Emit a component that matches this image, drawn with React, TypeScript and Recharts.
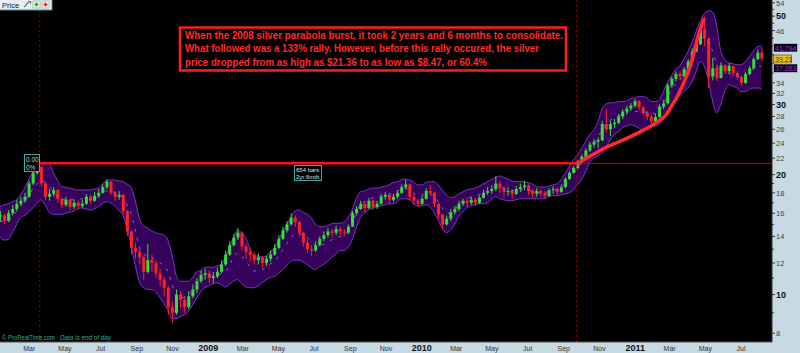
import React from 'react';
import { ComposedChart, Area, Bar, Line, XAxis, YAxis, CartesianGrid, ReferenceLine } from 'recharts';

// weekly bars, first bar is the week ending 2008-01-11 (day 0)
const START = Date.UTC(2008, 0, 11);
const toDay = (iso: string) => (Date.parse(iso) - START) / 86400000;

const closes = [
  15.8, 15.3, 16.0, 16.4, 16.9, 17.2, 17.6, 19.0, 20.2, 20.9,
  19.0, 17.6, 17.9, 18.3, 17.4, 16.8, 17.3, 16.6, 17.0, 16.7,
  16.9, 17.6, 17.2, 17.7, 18.0, 18.6, 19.2, 18.0, 17.6, 17.8,
  16.2, 14.4, 13.1, 12.8, 12.4, 11.4, 12.2, 12.0, 11.3, 10.9,
  10.4, 9.3, 9.0, 10.0, 9.7, 9.3, 9.9, 10.3, 10.8, 11.2,
  11.3, 11.0, 11.1, 11.4, 11.9, 12.6, 13.3, 13.9, 14.3, 13.2,
  12.8, 12.6, 12.2, 12.4, 12.0, 12.3, 12.6, 13.1, 13.8, 14.5,
  15.0, 15.6, 15.2, 14.3, 13.5, 13.0, 12.9, 13.3, 13.8, 14.1,
  14.4, 14.3, 14.6, 14.4, 14.3, 14.8, 16.0, 16.4, 16.9, 16.5,
  17.2, 16.6, 16.9, 17.6, 17.8, 17.3, 17.6, 18.0, 18.6, 18.9,
  17.6, 17.2, 16.9, 17.4, 18.2, 18.0, 16.9, 15.9, 15.0, 15.5,
  16.1, 16.4, 16.9, 17.2, 17.0, 17.3, 17.0, 17.5, 18.0, 18.2,
  18.4, 19.0, 18.5, 18.1, 18.2, 17.9, 18.4, 18.6, 18.8, 18.2,
  17.9, 18.2, 18.0, 17.7, 18.3, 18.4, 18.1, 18.6, 19.5, 20.2,
  20.8, 21.5, 22.2, 23.0, 23.8, 24.2, 24.4, 26.8, 26.0, 26.8,
  27.0, 28.0, 28.8, 29.3, 29.8, 30.6, 29.5, 28.6, 28.0, 27.2,
  27.9, 29.6, 30.2, 33.5, 34.8, 35.8, 35.3, 36.8, 38.5, 40.8,
  42.5, 46.5, 44.0, 35.3, 37.0, 35.0, 37.6, 36.4, 37.5, 36.0,
  35.2, 34.0, 35.8, 37.0, 39.0, 40.5, 39.21,
];

const highs = [
  16.2, 16.0, 16.3, 16.8, 17.3, 17.6, 18.0, 19.3, 20.5, 21.36,
  21.0, 19.1, 18.4, 18.6, 18.4, 17.5, 17.6, 17.4, 17.3, 17.2,
  17.3, 17.9, 17.8, 18.1, 18.4, 18.9, 19.5, 19.3, 18.2, 18.2,
  17.9, 16.3, 14.5, 13.5, 13.0, 12.5, 13.4, 12.6, 12.2, 11.6,
  11.1, 10.5, 9.6, 10.3, 10.2, 9.9, 10.2, 10.6, 11.0, 11.5,
  11.6, 11.5, 11.4, 11.7, 12.2, 12.9, 13.6, 14.2, 14.7, 14.4,
  13.4, 13.1, 12.8, 12.7, 12.5, 12.5, 12.9, 13.4, 14.1, 14.8,
  15.3, 16.0, 15.8, 15.3, 14.4, 13.7, 13.3, 13.6, 14.0, 14.4,
  14.7, 14.6, 14.9, 14.8, 14.6, 15.0, 16.2, 16.7, 17.2, 17.1,
  17.5, 17.3, 17.2, 17.9, 18.1, 17.9, 17.9, 18.3, 18.9, 19.4,
  19.0, 17.9, 17.4, 17.7, 18.5, 18.8, 18.1, 17.0, 15.9, 15.8,
  16.4, 16.7, 17.2, 17.4, 17.5, 17.6, 17.5, 17.7, 18.3, 18.6,
  18.8, 19.8, 19.3, 18.7, 18.6, 18.4, 18.7, 19.0, 19.3, 18.9,
  18.4, 18.5, 18.4, 18.2, 18.5, 18.7, 18.6, 18.9, 19.7, 20.4,
  21.0, 21.8, 22.5, 23.3, 24.2, 24.6, 24.8, 27.3, 29.2, 27.3,
  27.6, 28.4, 29.2, 29.8, 30.3, 31.0, 30.8, 29.8, 28.9, 28.3,
  28.4, 30.0, 30.8, 33.9, 35.2, 36.3, 36.3, 37.3, 39.0, 41.5,
  43.3, 47.2, 49.8, 44.2, 39.3, 37.8, 38.3, 37.9, 38.1, 37.6,
  36.4, 35.5, 36.2, 37.5, 39.4, 41.2, 41.8,
];

const lows = [
  15.2, 15.0, 15.2, 15.8, 16.2, 16.7, 17.0, 17.5, 18.8, 20.0,
  18.7, 17.3, 17.2, 17.6, 17.0, 16.5, 16.6, 16.3, 16.4, 16.4,
  16.5, 16.8, 16.9, 17.1, 17.5, 17.9, 18.4, 17.8, 17.2, 17.3,
  15.9, 14.0, 12.6, 12.3, 11.9, 10.9, 11.3, 11.4, 11.0, 10.5,
  9.9, 8.9, 8.47, 8.9, 9.3, 9.0, 9.2, 9.8, 10.1, 10.7,
  10.9, 10.7, 10.7, 11.0, 11.3, 11.8, 12.5, 13.2, 13.7, 12.9,
  12.3, 12.1, 11.9, 11.9, 11.7, 11.8, 12.1, 12.5, 13.0, 13.7,
  14.3, 14.9, 14.8, 14.0, 13.2, 12.7, 12.5, 12.8, 13.2, 13.6,
  13.9, 13.9, 14.1, 14.1, 14.0, 14.2, 14.8, 15.8, 16.3, 16.1,
  16.4, 16.3, 16.4, 16.8, 17.3, 16.9, 17.1, 17.4, 17.9, 18.4,
  17.3, 16.8, 16.6, 16.8, 17.3, 17.7, 16.6, 15.5, 14.6, 14.9,
  15.3, 15.9, 16.2, 16.7, 16.6, 16.8, 16.7, 16.9, 17.4, 17.8,
  17.9, 18.2, 18.0, 17.5, 17.7, 17.4, 17.8, 18.1, 18.3, 17.8,
  17.5, 17.6, 17.6, 17.4, 17.6, 17.9, 17.8, 18.0, 18.5, 19.4,
  20.1, 20.6, 21.3, 22.0, 22.8, 23.4, 23.3, 24.3, 25.5, 25.0,
  26.2, 26.8, 27.6, 28.3, 28.9, 29.5, 29.0, 28.2, 27.4, 26.4,
  26.9, 27.8, 29.2, 30.0, 33.0, 34.3, 34.5, 35.2, 36.6, 38.4,
  40.6, 42.4, 42.0, 33.0, 34.5, 34.4, 34.9, 35.8, 35.9, 35.3,
  34.6, 33.4, 33.8, 35.5, 36.7, 38.8, 38.6,
];

// bollinger envelope
const bandUpper = [
  16.6, 16.8, 16.9, 17.1, 17.3, 17.8, 18.5, 19.4, 20.3, 21.0,
  21.4, 21.5, 21.4, 20.3, 19.4, 18.7, 18.6, 18.5, 18.4, 18.3,
  18.3, 18.3, 18.3, 18.4, 18.5, 18.95, 19.3, 19.4, 19.4, 19.3,
  19.2, 18.95, 18.6, 17.3, 15.6, 14.9, 14.7, 14.45, 14.3, 14.2,
  14.1, 13.7, 12.6, 11.2, 10.8, 10.8, 10.8, 11.0, 11.4, 11.5,
  11.7, 11.7, 11.7, 11.8, 11.9, 12.4, 13.1, 13.9, 14.5, 14.3,
  13.9, 13.1, 12.5, 12.5, 12.4, 12.5, 12.8, 13.1, 13.7, 14.3,
  14.95, 15.6, 16.2, 16.3, 16.1, 15.9, 15.6, 15.05, 14.8, 14.8,
  14.9, 15.05, 15.1, 15.1, 15.2, 15.6, 16.3, 17.4, 18.1, 18.2,
  18.4, 18.5, 18.5, 18.6, 18.7, 18.85, 19.1, 19.2, 19.4, 19.5,
  19.4, 19.2, 18.85, 18.85, 19.1, 19.2, 19.2, 18.85, 18.3, 17.8,
  17.5, 17.6, 17.9, 18.1, 18.3, 18.4, 18.5, 18.7, 18.95, 19.2,
  19.4, 19.7, 19.85, 19.7, 19.5, 19.3, 19.2, 19.2, 19.2, 19.1,
  18.95, 18.7, 18.6, 18.6, 18.7, 18.85, 18.95, 19.4, 20.1, 20.9,
  21.7, 22.4, 23.2, 24.2, 25.2, 25.9, 27.1, 29.1, 30.1, 30.3,
  30.3, 30.5, 30.5, 30.6, 31.0, 31.2, 31.4, 31.4, 31.2, 30.6,
  30.5, 30.8, 32.3, 34.0, 35.4, 36.7, 37.5, 38.9, 40.7, 42.9,
  45.7, 48.4, 50.7, 51.6, 51.3, 47.6, 41.2, 38.9, 38.2, 38.0,
  37.75, 37.75, 38.4, 39.5, 40.9, 41.9, 42.1,
];

const bandLower = [
  14.0, 13.7, 13.75, 14.3, 14.95, 15.6, 15.8, 16.1, 16.5, 16.9,
  17.3, 16.8, 16.1, 15.9, 15.9, 15.9, 16.0, 16.1, 16.2, 16.4,
  16.5, 16.4, 16.3, 16.4, 16.6, 16.9, 17.1, 17.0, 16.7, 16.3,
  15.8, 14.7, 13.3, 11.9, 10.8, 10.4, 10.3, 10.3, 10.15, 9.85,
  9.5, 9.15, 8.7, 8.7, 8.8, 8.9, 9.05, 9.4, 9.8, 10.15,
  10.4, 10.5, 10.65, 10.7, 10.6, 10.45, 10.6, 10.8, 10.9, 10.65,
  10.45, 10.4, 10.4, 10.5, 10.7, 10.9, 11.05, 11.1, 11.3, 11.55,
  11.8, 12.1, 12.2, 12.2, 12.1, 11.9, 11.7, 11.55, 11.75, 11.9,
  12.1, 12.4, 12.6, 12.9, 12.9, 13.15, 13.7, 14.7, 15.6, 16.0,
  16.3, 16.5, 16.6, 16.7, 16.8, 16.9, 16.9, 17.1, 17.4, 17.4,
  17.3, 16.9, 16.7, 16.7, 16.8, 16.6, 16.1, 15.4, 14.7, 14.3,
  14.5, 14.95, 15.7, 16.1, 16.5, 16.7, 16.8, 16.9, 16.9, 17.0,
  17.3, 17.6, 17.4, 17.3, 17.2, 17.2, 17.3, 17.4, 17.4, 17.4,
  17.4, 17.4, 17.4, 17.4, 17.6, 17.7, 17.7, 17.8, 17.9, 18.0,
  18.3, 18.85, 19.4, 20.3, 21.4, 22.0, 22.3, 22.6, 23.4, 24.4,
  25.2, 25.6, 26.2, 26.5, 26.7, 26.5, 26.2, 25.9, 26.2, 26.35,
  26.5, 26.8, 27.7, 28.75, 29.75, 30.8, 31.55, 32.3, 33.0, 34.2,
  36.2, 38.4, 37.5, 34.6, 30.8, 28.6, 29.9, 32.3, 33.6, 33.4,
  33.0, 32.3, 32.3, 32.7, 33.0, 33.0, 32.8,
];

// hand-drawn parabola (week index -> price)
const parabolaWeeks = [141, 144, 148, 152, 156, 160, 163, 164, 165, 166, 167, 168, 169, 170, 171, 172];
const parabolaValues = [21.3, 22.2, 23.4, 24.4, 25.5, 26.9, 28.5, 29.7, 30.8, 32.3, 34.0, 36.0, 38.6, 42.6, 46.2, 49.3];

const tickDates = [
  '2008-03-01', '2008-05-01', '2008-07-01', '2008-09-01', '2008-11-01', '2009-01-01',
  '2009-03-01', '2009-05-01', '2009-07-01', '2009-09-01', '2009-11-01', '2010-01-01',
  '2010-03-01', '2010-05-01', '2010-07-01', '2010-09-01', '2010-11-01', '2011-01-01',
  '2011-03-01', '2011-05-01', '2011-07-01',
];
const tickLabels = [
  'Mar', 'May', 'Jul', 'Sep', 'Nov', '2009', 'Mar', 'May', 'Jul', 'Sep', 'Nov', '2010',
  'Mar', 'May', 'Jul', 'Sep', 'Nov', '2011', 'Mar', 'May', 'Jul',
];
const tickDays = tickDates.map(toDay);

// 42 and 38 sit under the value tags, so they only get a tick mark
const labelTicks = [54, 50, 46, 34, 32, 30, 28, 26, 24, 22, 20, 18, 16, 14, 12, 10, 8];
const markTicks = [52, 48, 44, 42, 40, 38, 36, 19, 17, 15, 13, 11, 9];
const boldTicks = [50, 30, 20, 10];

const PEAK_PRICE = 21.36;
const peakDay = toDay('2008-03-19');
const breakoutDay = toDay('2010-09-23');
const X_END = 1320;

const noteLines = [
  'When the 2008 silver parabola burst, it took 2 years and 6 months to consolidate.',
  'What followed was a 133% rally. However, before this rally occured, the silver',
  'price dropped from as high as $21.36 to as low as $8.47, or 60.4%',
];
const noteWidths = [378, 354, 302];

const rows = closes.map((c, i) => {
  const p = parabolaWeeks.indexOf(i);
  return {
    day: i * 7,
    open: i === 0 ? c : closes[i - 1], // weekly open taken as prior close
    close: c,
    high: highs[i],
    low: lows[i],
    range: [lows[i], highs[i]],
    band: [bandLower[i], bandUpper[i]],
    mid: (bandLower[i] + bandUpper[i]) / 2,
    parabola: p >= 0 ? parabolaValues[p] : null,
  };
});

const FONT = "'Liberation Sans', Arial, sans-serif";

function Candle(props: any) {
  const { x, y, width, height, payload } = props;
  if (height == null || !payload) return null;
  const { open, close, high, low } = payload;
  const lh = Math.log(high);
  const span = lh - Math.log(low) || 1;
  const py = (v: number) => {
    const c = Math.min(high, Math.max(low, v));
    return y + (height * (lh - Math.log(c))) / span;
  };
  const up = close >= open;
  const color = up ? '#2fe32f' : '#ff2222';
  const cx = x + width / 2;
  const top = py(Math.max(open, close));
  const bot = py(Math.min(open, close));
  return (
    <g>
      <line x1={cx} x2={cx} y1={y} y2={y + height} stroke={color} strokeWidth={1} />
      <rect x={x} y={top} width={width} height={Math.max(1, bot - top)} fill={color} />
    </g>
  );
}

function PriceTick(props: any) {
  const { x, y, payload } = props;
  const v = payload.value;
  const labelled = labelTicks.includes(v);
  const bold = boldTicks.includes(v);
  return (
    <g>
      <line x1={x} x2={x + (labelled ? 3 : 2)} y1={y} y2={y} stroke="#333" />
      {labelled && (
        <text x={x + 4} y={y} dy={3} fontSize={bold ? 9 : 7.5} fontWeight={bold ? 'bold' : 'normal'}
          fill={bold ? '#111' : '#444'} fontFamily={FONT}>
          {v}
        </text>
      )}
    </g>
  );
}

function DateTick(props: any) {
  const { x, y, payload } = props;
  const label = tickLabels[tickDays.indexOf(payload.value)] ?? '';
  const isYear = /^\d{4}$/.test(label);
  return (
    <text x={x} y={y + 9} textAnchor="middle" fontSize={isYear ? 9 : 7} fontWeight={isYear ? 'bold' : 'normal'}
      fill={isYear ? '#111' : '#333'} fontFamily={FONT}>
      {label}
    </text>
  );
}

function Overlay() {
  return (
    <svg width={800} height={353} style={{ position: 'absolute', left: 0, top: 0, pointerEvents: 'none' }} fontFamily={FONT}>
      {/* panel header */}
      <rect x={-1} y={-1} width={53} height={11} fill="#e6eff2" stroke="#3e988e" />
      <text x={2} y={7.5} fontSize={7.5} fill="#111">Price</text>
      <path d="M24,7 L29,2 M28,1.5 L30.5,1.5 L30.5,4" stroke="#777" strokeWidth={1.2} fill="none" />
      <rect x={33} y={1} width={7} height={7} fill="#f4f4f4" stroke="#999" strokeWidth={0.6} />
      <path d="M36.5,2.5 V6.5 M34.5,4.5 H38.5" stroke="#19a019" strokeWidth={1.4} />
      <rect x={42} y={1} width={7} height={7} fill="#f4f4f4" stroke="#999" strokeWidth={0.6} />
      <path d="M45.5,2.5 V6.5 M43.5,4.5 H47.5" stroke="#e02020" strokeWidth={1.4} />

      {/* annotation */}
      <rect x={180} y={27.5} width={386} height={43} fill="#000" stroke="#ff1e1e" strokeWidth={2.5} />
      {noteLines.map((t, i) => (
        <text key={i} x={185} y={39 + i * 13.4} fontSize={10.5} fontWeight="bold" fill="#ff2a2a"
          textLength={noteWidths[i]} lengthAdjust="spacingAndGlyphs">
          {t}
        </text>
      ))}

      {/* measurement tags */}
      <rect x={24.5} y={154.5} width={15} height={17} fill="#000" stroke="#4aa89a" />
      <text x={26} y={161.5} fontSize={6.5} fill="#a8dcd4">0.00</text>
      <text x={26} y={169.5} fontSize={6.5} fill="#a8dcd4">0%</text>
      <rect x={294.5} y={165.5} width={27} height={15} fill="#000" stroke="#4aa89a" />
      <text x={296} y={172} fontSize={6} fill="#cfe9e4">654 bars</text>
      <text x={296} y={179} fontSize={6} fill="#cfe9e4">2yr 6mth</text>

      {/* axis value tags */}
      <rect x={773.5} y={43.5} width={24} height={8.5} fill="#08000e" stroke="#d0dfe6" strokeWidth={0.6} />
      <text x={775} y={50.5} fontSize={7} fill="#8d3fd6">41.794</text>
      <rect x={773.5} y={55} width={18} height={8} fill="#f1c21b" stroke="#333" strokeWidth={0.6} />
      <text x={775} y={61.8} fontSize={7} fill="#4a2870">39.21</text>
      <rect x={773.5} y={64} width={24} height={8.5} fill="#08000e" stroke="#d0dfe6" strokeWidth={0.6} />
      <text x={775} y={71} fontSize={7} fill="#8d3fd6">37.283</text>

      {/* footer */}
      <text x={2} y={339.5} fontSize={6.5} fill="#3aa98a" textLength={53} lengthAdjust="spacingAndGlyphs">© ProRealTime.com</text>
      <text x={60} y={339.5} fontSize={6.5} fontStyle="italic" fill="#3aa98a" textLength={51} lengthAdjust="spacingAndGlyphs">Data is end of day</text>
    </svg>
  );
}

export default function App() {
  return (
    <div style={{ position: 'absolute', left: 0, top: 0, width: 800, height: 353, background: '#c7d9e2', overflow: 'hidden' }}>
      <ComposedChart width={800} height={353} data={rows} margin={{ top: 0, right: 0, bottom: 0, left: 0 }}>
        <CartesianGrid horizontal={false} vertical={false} fill="#000" />
        <XAxis type="number" dataKey="day" domain={[0, X_END]} allowDataOverflow ticks={tickDays} interval={0}
          tick={<DateTick />} tickSize={0} tickMargin={0} height={11} axisLine={{ stroke: '#555' }} />
        <YAxis orientation="right" type="number" scale="log" domain={[7.6, 54.9]} allowDataOverflow
          ticks={[...labelTicks, ...markTicks]} interval={0} tick={<PriceTick />} tickSize={0} tickMargin={0}
          width={28} axisLine={{ stroke: '#333' }} />
        <Area dataKey="band" type="monotone" fill="#35045a" fillOpacity={1} stroke="#7d35c4" strokeWidth={1}
          dot={false} activeDot={false} isAnimationActive={false} />
        <Line dataKey="mid" type="monotone" stroke="#9c58dc" strokeWidth={1} strokeDasharray="3 6" dot={false}
          activeDot={false} isAnimationActive={false} />
        <Bar dataKey="range" barSize={3} shape={(p: any) => <Candle {...p} />} isAnimationActive={false} />
        <ReferenceLine x={peakDay} stroke="#a00000" strokeDasharray="2 3" />
        <ReferenceLine x={breakoutDay} stroke="#a00000" strokeDasharray="2 3" />
        <ReferenceLine segment={[{ x: peakDay, y: PEAK_PRICE }, { x: breakoutDay, y: PEAK_PRICE }]} stroke="#ff1010" strokeWidth={2.5} />
        <ReferenceLine segment={[{ x: breakoutDay, y: PEAK_PRICE }, { x: X_END, y: PEAK_PRICE }]} stroke="#d00000" strokeWidth={1} />
        <Line dataKey="parabola" type="monotone" connectNulls stroke="#ff2a2a" strokeWidth={3.5} dot={false}
          activeDot={false} isAnimationActive={false} />
      </ComposedChart>
      <Overlay />
    </div>
  );
}
